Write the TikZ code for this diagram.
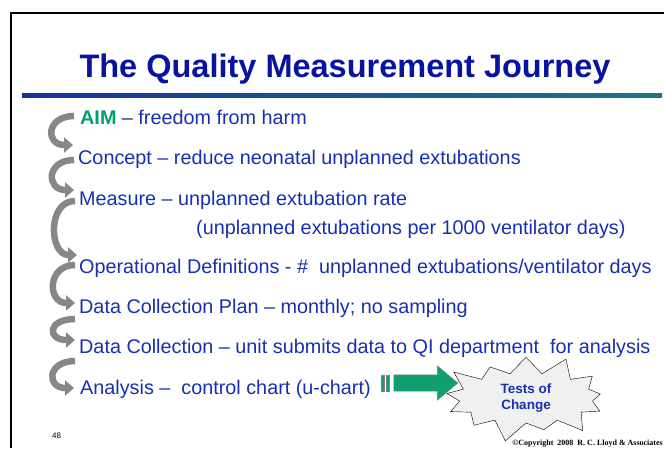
\documentclass[tikz,border=0pt]{standalone}
\usepackage{fontspec}
\setmainfont{Liberation Sans}
\newfontfamily\copyfont{Liberation Serif}
\usetikzlibrary{arrows.meta,shapes.symbols,shapes.arrows,positioning}
\definecolor{titleblue}{RGB}{8,20,160}
\definecolor{textblue}{RGB}{22,48,176}
\definecolor{aimgreen}{RGB}{0,160,110}
\definecolor{arrowgray}{RGB}{135,135,135}
\definecolor{pushgreen}{RGB}{16,160,112}
\definecolor{barblue}{RGB}{26,50,160}
\definecolor{barteal}{RGB}{24,120,130}

\begin{document}
\begin{tikzpicture}[x=1pt,y=-1pt,
    step text/.style={anchor=base west,inner sep=0pt,text=textblue,
      font=\fontsize{19.8}{23}\selectfont},
    journey arrow/.style={draw=arrowgray,line width=6.5pt,
      -{Triangle[width=15pt,length=9pt]},out=180,in=180,distance=28pt},
    push arrow/.style={single arrow,fill=pushgreen,draw=gray,
      single arrow head extend=9pt,single arrow tip angle=80,
      minimum height=64pt,inner sep=8pt},
    burst node/.style={starburst,draw,fill=gray!12,starburst points=13,
      starburst point height=22pt,minimum width=178pt,minimum height=72pt,
      align=center,text=textblue,font=\fontsize{13.5}{16}\selectfont\bfseries}]

  \useasboundingbox (0,0) rectangle (664,448);

  % slide frame and title bar
  \draw[line width=1.2pt] (11,448) -- (11,13) -- (664,13);
  \shade[left color=barblue,right color=barteal] (22,93) rectangle (662,97);

  \node[anchor=base,inner sep=0pt,text=titleblue,
    font=\fontsize{32.5}{38}\selectfont\bfseries] (title) at (345,77)
    {The Quality Measurement Journey};

  % the steps of the journey
  \node[step text] (aim) at (80,124) {\textcolor{aimgreen}{\textbf{AIM}} – freedom from harm};
  \node[step text] (concept) at (78,164) {Concept – reduce neonatal unplanned extubations};
  \node[step text] (measure) at (79,205) {Measure – unplanned extubation rate};
  \node[step text] (rate) at (196,234) {(unplanned extubations per 1000 ventilator days)};
  \node[step text] (opdef) at (79,273) {Operational Definitions - \#\ \ unplanned extubations/ventilator days};
  \node[step text] (plan) at (79,313) {Data Collection Plan – monthly; no sampling};
  \node[step text] (collect) at (79,353) {Data Collection – unit submits data to QI department\ \ for analysis};
  \node[step text] (analysis) at (80,394) {Analysis –\ \ control chart (u-chart)};

  % curved arrows between the steps
  \draw[journey arrow] ([shift={(-6pt,8pt)}]aim.base west) to ([shift={(-5pt,19pt)}]concept.base west);
  \draw[journey arrow] ([shift={(-4pt,4pt)}]concept.base west) to ([shift={(-5pt,15pt)}]measure.base west);
  \draw[journey arrow] ([shift={(-4pt,4pt)}]measure.base west) to ([shift={(-2pt,18pt)}]opdef.base west);
  \draw[journey arrow] ([shift={(-4pt,8pt)}]opdef.base west) to ([shift={(-4pt,10pt)}]plan.base west);
  \draw[journey arrow] ([shift={(-4pt,-6pt)}]plan.base west) to ([shift={(-4pt,13pt)}]collect.base west);
  \draw[journey arrow] ([shift={(-4pt,-8pt)}]collect.base west) to ([shift={(-6pt,6pt)}]analysis.base west);

  % push towards the tests
  \node[push arrow] (push) at (421,383) {};
  \filldraw[fill=pushgreen,draw=gray] ([xshift=-12pt,yshift=-8pt]push.west) rectangle ([xshift=-9pt,yshift=8pt]push.west);
  \filldraw[fill=pushgreen,draw=gray] ([xshift=-7pt,yshift=-8pt]push.west) rectangle ([xshift=-4pt,yshift=8pt]push.west);
  \node[burst node] (tests) at (526,398) {Tests of\\Change};

  \node[anchor=base west,inner sep=0pt,font=\fontsize{8}{10}\selectfont] (page) at (52,438) {48};
  \node[anchor=base east,inner sep=0pt,font=\copyfont\fontsize{8}{10}\selectfont\bfseries] (copy) at (663,445)
    {©Copyright\ \ 2008\ \ R. C. Lloyd \& Associates};
\end{tikzpicture}
\end{document}
